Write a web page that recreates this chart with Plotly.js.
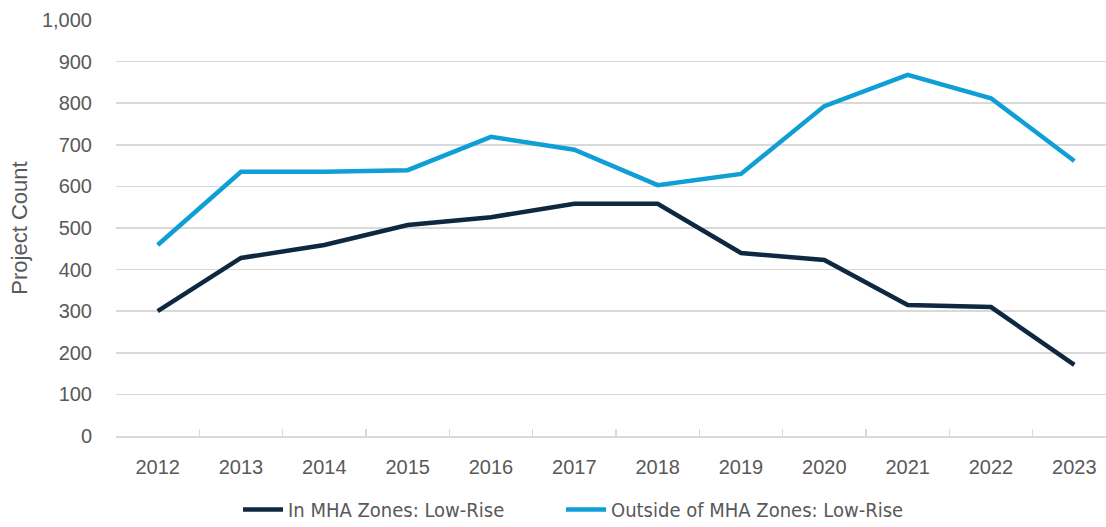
<!DOCTYPE html>
<html><head><meta charset="utf-8">
<script src="https://cdn.plot.ly/plotly-3.0.1.min.js"></script>
<style>html,body{margin:0;padding:0;background:#fff}#chart{width:1106px;height:527px}</style>
</head><body><div id="chart"></div>
<script>
const years = ['2012','2013','2014','2015','2016','2017','2018','2019','2020','2021','2022','2023'];
const inMHA = [300, 428, 459, 507, 526, 558, 558, 440, 423, 315, 310, 171];
const outsideMHA = [459, 635, 635, 639, 719, 688, 603, 630, 793, 868, 812, 661];
const seriesNames = ['In MHA Zones: Low-Rise', 'Outside of MHA Zones: Low-Rise'];
const yTicks = [0,100,200,300,400,500,600,700,800,900,1000];
const yTickText = ['0','100','200','300','400','500','600','700','800','900','1,000'];

const traces = [
  {x: years, y: inMHA, name: seriesNames[0], type: 'scatter', mode: 'lines', legend: 'legend',
   line: {color: '#0E2841', width: 4.5, shape: 'linear'}},
  {x: years, y: outsideMHA, name: seriesNames[1], type: 'scatter', mode: 'lines', legend: 'legend2',
   line: {color: '#0F9ED5', width: 4.5, shape: 'linear'}}
];
const legendFont = {family: 'Liberation Sans Narrow, DejaVu Sans Condensed, sans-serif', size: 20, color: '#595959'};
const layout = {
  width: 1106, height: 527,
  margin: {l: 116, r: 0, t: 20, b: 91},
  paper_bgcolor: '#fff', plot_bgcolor: '#fff',
  font: {family: 'Liberation Sans, Arial, sans-serif', color: '#595959', size: 20},
  showlegend: true,
  legend: {orientation: 'h', x: 0.1232, xanchor: 'left', yref: 'container', y: 0.07, yanchor: 'top',
    itemwidth: 40, font: legendFont},
  legend2: {orientation: 'h', x: 0.4495, xanchor: 'left', yref: 'container', y: 0.07, yanchor: 'top',
    itemwidth: 40, font: legendFont},
  xaxis: {type: 'category', range: [-0.5, 11.38], showgrid: false,
    showline: true, linecolor: '#d9d9d9', linewidth: 1.5,
    ticks: 'inside', tickson: 'boundaries', ticklen: 7, tickcolor: '#d9d9d9', tickwidth: 1.5,
    tickfont: {size: 20, color: '#595959'}, ticklabelstandoff: 12},
  yaxis: {range: [0, 1000], tickvals: yTicks, ticktext: yTickText,
    showgrid: true, gridcolor: '#d9d9d9', gridwidth: 1.5, zeroline: false, showline: false,
    ticks: '', tickfont: {size: 20, color: '#595959'}, ticklabelstandoff: 23,
    title: {text: 'Project Count', font: {size: 22, color: '#595959'}, standoff: 8}},
  hovermode: false
};
Plotly.newPlot('chart', traces, layout, {displayModeBar: false, staticPlot: true});
</script></body></html>
